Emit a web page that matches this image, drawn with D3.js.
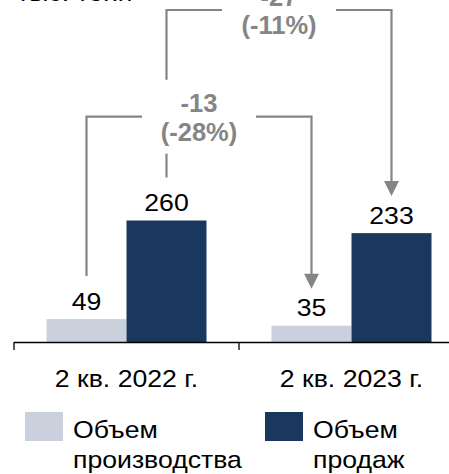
<!DOCTYPE html>
<meta charset="utf-8">
<style>
body { margin: 0; background: #fff; }
svg text { font-family: "Liberation Sans", Arial, sans-serif; }
.brackets path, .brackets line { stroke: #858585; stroke-width: 2.2px; fill: none; }
</style>
<svg width="449" height="474"></svg>
<script src="https://d3js.org/d3.v7.min.js"></script>
<script>
// data
var categories = ["2 кв. 2022 г.", "2 кв. 2023 г."];
var seriesNames = ["Объем производства", "Объем продаж"];
var legendLines = [["Объем", "производства"], ["Объем", "продаж"]];
var production = [49, 35];
var sales = [260, 233];
var changeAbs = ["-13", "-27"];
var changePct = ["(-28%)", "(-11%)"];
var unitLabel = "тыс. тонн";

var colors = ["#cad1dc", "#1a375d"];
var stretch = 1.11; // text in the original is a bit wider than Arial

var svg = d3.select("svg");

var x0 = d3.scaleBand().domain(categories).range([14, 464]);
var x1 = d3.scaleBand().domain([0, 1]).range([0, 160]);
var y = d3.scaleLinear().domain([0, 260]).range([342, 220.5]);

var rows = categories.map(function(c, i) { return {cat: c, vals: [production[i], sales[i]]}; });

function barCenter(cat, s) {
  return x0(cat) + (x0.bandwidth() - 160) / 2 + x1(s) + x1.bandwidth() / 2;
}

// plain text, stretched horizontally around its anchor
function label(parent, tx, ty, str, anchor) {
  return parent.append("text")
      .attr("transform", "translate(" + tx + "," + ty + ") scale(" + stretch + ",1)")
      .attr("text-anchor", anchor || "start")
      .attr("font-size", 24)
      .attr("fill", "#000")
      .text(str);
}

// unit label (clipped at top)
label(svg, 17, 1, unitLabel);

// bars
var g = svg.append("g").selectAll("g").data(rows).enter().append("g")
    .attr("transform", function(d) { return "translate(" + (x0(d.cat) + (x0.bandwidth() - 160) / 2) + ",0)"; });

g.selectAll("rect").data(function(d) { return d.vals.map(function(v, s) { return {v: v, s: s}; }); })
  .enter().append("rect")
    .attr("x", function(d) { return x1(d.s); })
    .attr("width", x1.bandwidth())
    .attr("y", function(d) { return y(d.v); })
    .attr("height", function(d) { return y(0) - y(d.v); })
    .attr("fill", function(d) { return colors[d.s]; });

g.each(function(d) {
  var gg = d3.select(this);
  d.vals.forEach(function(v, s) {
    label(gg, x1(s) + x1.bandwidth() / 2, y(v) - 9.5, v, "middle");
  });
});

// axis
var axis = svg.append("g");
axis.append("line").attr("x1", 14).attr("x2", 449).attr("y1", 342.5).attr("y2", 342.5)
    .attr("stroke", "#000").attr("stroke-width", 1.3);
[14, x0(categories[1])].forEach(function(tx) {
  axis.append("line").attr("x1", tx).attr("x2", tx).attr("y1", 342).attr("y2", 350)
      .attr("stroke", "#000").attr("stroke-width", 1.3);
});
categories.forEach(function(c) {
  label(axis, x0(c) + x0.bandwidth() / 2, 387, c, "middle");
});

// change brackets
var levels = [116.7, 10];
var halfGap = 57;
var br = svg.append("g").attr("class", "brackets");
[0, 1].forEach(function(s) {
  var vals = s === 0 ? production : sales;
  var xa = barCenter(categories[0], s), xb = barCenter(categories[1], s);
  var ly = levels[s], mid = (xa + xb) / 2;
  var yStart = y(vals[0]) - 43, yTip = y(vals[1]) - 37;
  if (s === 1) {
    // left leg broken by the inner label
    br.append("path").attr("d", "M" + xa + "," + yStart + "V" + (levels[0] + 37));
    br.append("path").attr("d", "M" + xa + "," + (levels[0] - 37) + "V" + ly + "H" + (mid - halfGap));
  } else {
    br.append("path").attr("d", "M" + xa + "," + yStart + "V" + ly + "H" + (mid - halfGap));
  }
  br.append("path").attr("d", "M" + (mid + halfGap) + "," + ly + "H" + xb + "V" + (yTip - 14));
  br.append("polygon")
      .attr("points", [[xb - 7.5, yTip - 15], [xb + 7.5, yTip - 15], [xb, yTip]].join(" "))
      .attr("fill", "#858585");
  br.append("text").attr("x", mid).attr("y", ly - 4.5)
      .attr("text-anchor", "middle").attr("font-size", 25.5).attr("font-weight", "bold")
      .attr("fill", "#858585").text(changeAbs[s]);
  br.append("text").attr("x", mid).attr("y", ly + 24)
      .attr("text-anchor", "middle").attr("font-size", 25.5).attr("font-weight", "bold")
      .attr("fill", "#858585").text(changePct[s]);
});

// legend
var legX = [25, 265];
var leg = svg.append("g").selectAll("g").data(seriesNames).enter().append("g")
    .attr("transform", function(d, i) { return "translate(" + legX[i] + ",412)"; });
leg.append("rect").attr("width", 38).attr("height", 29)
    .attr("fill", function(d, i) { return colors[i]; });
leg.each(function(d, i) {
  var gg = d3.select(this);
  legendLines[i].forEach(function(line, k) {
    label(gg, 48, 26 + k * 29.5, line);
  });
});
</script>
